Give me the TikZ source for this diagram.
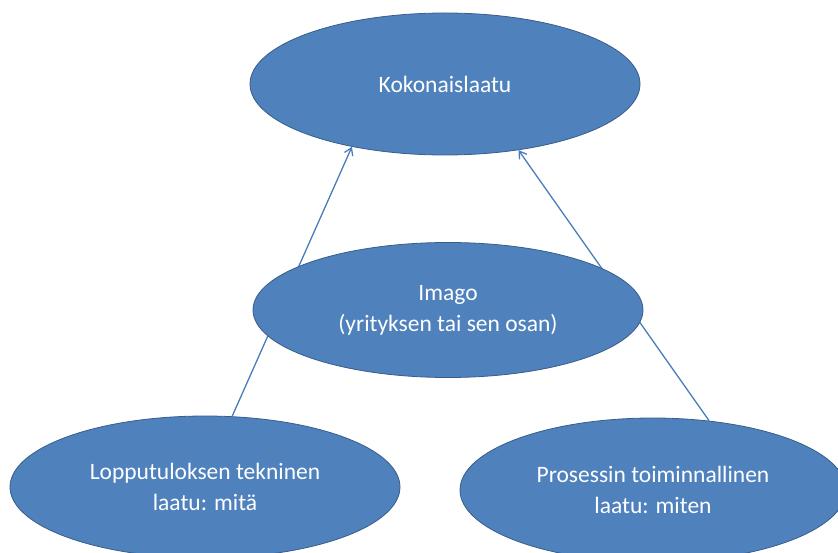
\documentclass[tikz,border=0pt]{standalone}
\usepackage{fontspec}
\setmainfont{Carlito}
\usetikzlibrary{arrows.meta, shapes.geometric}
\definecolor{ovalblue}{RGB}{79,129,189}
\definecolor{ovaledge}{RGB}{56,93,138}
\definecolor{linkblue}{RGB}{74,126,187}

\begin{document}
\begin{tikzpicture}[x=1pt, y=-1pt,
  oval/.style={ellipse, fill=ovalblue, draw=ovaledge, line width=0.8pt, inner sep=0pt,
    minimum width=390pt, minimum height=142pt, text=white, align=center,
    font=\fontsize{23.5}{31}\selectfont},
  link/.style={linkblue, line width=1.3pt, -{Straight Barb[length=7pt, width=9pt]}}]
  \useasboundingbox (0,0) rectangle (838,553);
  % overall quality on top
  \node[oval] (koko) at (445,84) {Kokonaislaatu};
  % the two lower ovals
  \node[oval] (lopputulos) at (205,487) {Lopputuloksen tekninen\\laatu: mitä};
  \node[oval, minimum width=386pt, minimum height=144pt] (prosessi) at (653,490) {Prosessin toiminnallinen\\laatu: miten};
  % arrows run behind the middle oval
  \draw[link] (lopputulos.69) -- (koko.214);
  \draw[link] (prosessi.51) -- (koko.318);
  \node[oval, minimum height=135pt] (imago) at (448,310) {Imago\\(yrityksen tai sen osan)};
\end{tikzpicture}
\end{document}
